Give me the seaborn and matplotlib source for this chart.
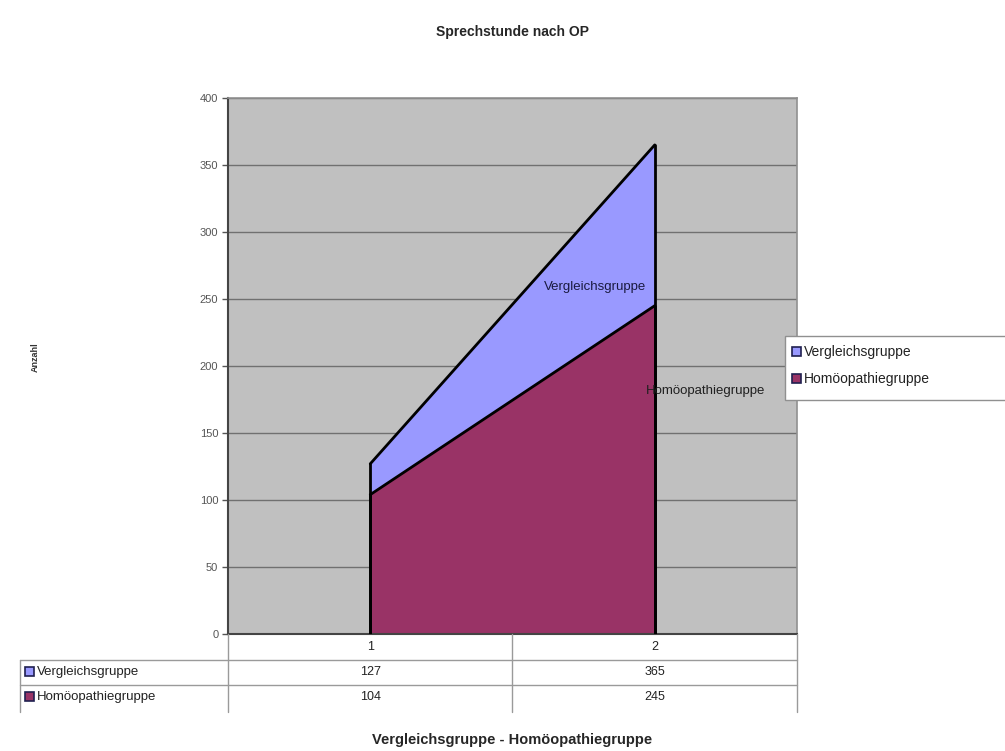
import numpy as np
import pandas as pd
import matplotlib
matplotlib.use("Agg")
import matplotlib.pyplot as plt
import seaborn as sns
from matplotlib.patches import Rectangle

# Daten
kategorien = ["1", "2"]
vergleich = [127, 365]
homoeo = [104, 245]
serien = ["Vergleichsgruppe", "Homöopathiegruppe"]
farben = ["#9999ff", "#993366"]
y_ticks = [0, 50, 100, 150, 200, 250, 300, 350, 400]

sns.set_style("white")
plt.rcParams["font.family"] = ["Liberation Sans", "DejaVu Sans"]

df = pd.DataFrame({
    "x": [1, 2, 1, 2],
    "wert": vergleich + homoeo,
    "gruppe": [serien[0]] * 2 + [serien[1]] * 2,
})

fig = plt.figure(figsize=(10.05, 7.51), dpi=100)
ax = fig.add_axes([228 / 1005, 1 - 634 / 751, 569 / 1005, 536 / 751])
ax.set_facecolor("#c0c0c0")

x = np.array([1, 2])
# Flächen (überlappend, nicht gestapelt)
for werte, farbe in [(vergleich, farben[0]), (homoeo, farben[1])]:
    ax.fill_between(x, 0, werte, color=farbe, zorder=2)
    ax.plot([1, 1], [0, werte[0]], color="black", lw=2, zorder=3)
    ax.plot([2, 2], [0, werte[1]], color="black", lw=2, zorder=3)
sns.lineplot(data=df, x="x", y="wert", hue="gruppe", palette=["black", "black"],
             lw=2, legend=False, ax=ax, zorder=3)

ax.set_xlim(0.5, 2.5)
ax.set_ylim(0, 400)
ax.set_yticks(y_ticks)
ax.set_yticklabels([str(t) for t in y_ticks], fontsize=8, color="#555555")
ax.set_xticks([])
ax.set_xlabel("")
ax.set_ylabel("")
ax.yaxis.grid(True, color="#707070", lw=1, zorder=1)
ax.set_axisbelow(True)
ax.tick_params(axis="y", length=4, width=1, color="#555555", left=True, pad=3)
ax.spines["left"].set_color("#444444")
ax.spines["left"].set_linewidth(1.5)
ax.spines["bottom"].set_color("#444444")
ax.spines["bottom"].set_linewidth(1.5)
for s in ["top", "right"]:
    ax.spines[s].set_color("#909090")
    ax.spines[s].set_linewidth(1.2)

# Direkte Beschriftungen
ax.text(1.79, 259, serien[0], fontsize=9.5, color="#1a1a40", ha="center", va="center", zorder=4)
ax.text(2.18, 181, serien[1], fontsize=9.5, color="#202020", ha="center", va="center", zorder=4)

# Titel und Achsentitel
fig.text(512 / 1005, 1 - 32 / 751, "Sprechstunde nach OP", fontsize=10,
         fontweight="bold", ha="center", va="center")
fig.text(35 / 1005, 1 - 357 / 751, "Anzahl", fontsize=6.5, fontweight="bold",
         rotation=90, ha="center", va="center", color="#333333")
fig.text(512 / 1005, 1 - 740 / 751, "Vergleichsgruppe - Homöopathiegruppe",
         fontsize=10.5, fontweight="bold", ha="center", va="center")

# Datentabelle unter dem Diagramm (Pixelkoordinaten)
tab = fig.add_axes([0, 0, 1, 1], facecolor="none")
tab.set_xlim(0, 1005)
tab.set_ylim(751, 0)
tab.axis("off")
lc = "#9a9a9a"
spalten_x = [ax.transData.transform((xx, 0))[0] for xx in x]
for xv in [228, 512, 797]:
    tab.plot([xv, xv], [634, 712], color=lc, lw=1)
tab.plot([20, 20], [660, 712], color=lc, lw=1)
for yv in [660, 685]:
    tab.plot([20, 797], [yv, yv], color=lc, lw=1)
for k, xp in zip(kategorien, spalten_x):
    tab.text(xp, 647, k, fontsize=9, ha="center", va="center", color="#222222")
for i, (name, werte, farbe) in enumerate(zip(serien, [vergleich, homoeo], farben)):
    yc = 672 + i * 25
    tab.add_patch(Rectangle((25, yc - 5), 9, 9, facecolor=farbe, edgecolor="#202050", lw=1.2))
    tab.text(37, yc, name, fontsize=9.5, ha="left", va="center", color="#222222")
    for w, xp in zip(werte, spalten_x):
        tab.text(xp, yc, str(w), fontsize=9, ha="center", va="center", color="#222222")

# Legende rechts
tab.add_patch(Rectangle((785, 336), 230, 64, facecolor="white", edgecolor="#909090", lw=1))
for i, (name, farbe) in enumerate(zip(serien, farben)):
    yc = 352 + i * 27
    tab.add_patch(Rectangle((792, yc - 5), 9, 9, facecolor=farbe, edgecolor="#202050", lw=1.2))
    tab.text(804, yc, name, fontsize=10, ha="left", va="center", color="#222222")

fig.savefig("out.png", dpi=100)
